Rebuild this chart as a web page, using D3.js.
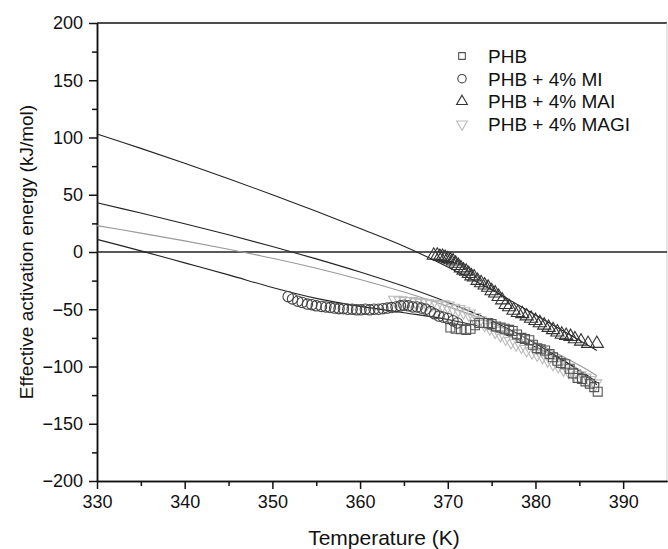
<!DOCTYPE html>
<html lang="en">
  <head>
    <meta charset="utf-8">
    <title>Effective activation energy vs temperature</title>
    <style>
      body { margin: 0; background: #fff; }
      text { font-family: Arial, "Liberation Sans", sans-serif; fill: #111; }
      .axis path, .axis line { stroke: #111; stroke-width: 1.5; }
      .axis text { font-size: 18px; font-family: Arial, "Liberation Sans", sans-serif; }
    </style>
    <script src="https://cdn.jsdelivr.net/npm/d3@7"></script>
  </head>
  <body>
  <svg width="668" height="549"></svg>
  <script>
// ticks
var xTicks = [330, 340, 350, 360, 370, 380, 390];
var xMinor = [335, 345, 355, 365, 375, 385];
var yTicks = [-200, -150, -100, -50, 0, 50, 100, 150, 200];
var yMinor = [-175, -125, -75, -25, 25, 75, 125, 175];

var seriesNames = ["PHB", "PHB + 4% MI", "PHB + 4% MAI", "PHB + 4% MAGI"];

// PHB (squares)
var phbT = [370.3, 370.9, 371.5, 372.1, 372.6, 373.1, 373.6, 374.1, 374.6, 375.0, 375.5, 376.0, 376.5, 377.0, 377.4, 377.9, 378.4, 378.8, 379.3, 379.7, 380.2, 380.6, 381.1, 381.6, 382.0, 382.5, 382.9, 383.4, 383.9, 384.3, 384.8, 385.3, 385.7, 386.2, 386.7, 387.1];
var phbE = [-66, -67, -67.5, -68, -67, -64, -62, -62, -62, -63, -65, -66, -67, -68, -69, -72, -75, -76, -77, -81, -84, -85, -86, -89, -92, -95, -97, -98, -102, -106, -110, -111, -113, -115, -118, -122];

// PHB + 4% MI (circles)
var miT = [351.8, 352.3, 352.9, 353.4, 354.0, 354.5, 355.0, 355.6, 356.1, 356.6, 357.1, 357.6, 358.1, 358.6, 359.1, 359.6, 360.1, 360.6, 361.1, 361.6, 362.1, 362.6, 363.1, 363.6, 364.1, 364.6, 365.0, 365.5, 366.0, 366.5, 367.0, 367.5, 368.0, 368.5, 369.0, 369.5, 370.0, 370.6, 371.1];
var miE = [-39, -41, -43, -44, -45.5, -46, -47, -47.5, -48, -48.5, -49, -49.5, -49.5, -50, -50, -50.5, -50.5, -50, -50.5, -50, -50, -49.5, -49, -48.5, -48, -47, -46.5, -47, -48, -48, -49, -50, -52, -54, -56, -57, -58, -60, -62];

// PHB + 4% MAI (up triangles)
var maiT = [368.4, 368.8, 369.1, 369.4, 369.7, 370.0, 370.3, 370.6, 370.9, 371.2, 371.5, 371.8, 372.1, 372.4, 372.7, 373.0, 373.4, 373.8, 374.2, 374.6, 375.0, 375.4, 375.8, 376.2, 376.6, 377.0, 377.5, 378.0, 378.5, 379.0, 379.5, 380.0, 380.5, 381.0, 381.5, 382.0, 382.5, 383.0, 383.5, 384.0, 384.5, 385.2, 386.0, 387.0];
var maiE = [-3, -3, -4, -4, -5, -6, -7, -8, -10, -12, -14, -16, -17, -19, -21, -22, -25, -27, -29, -31, -34, -36, -39, -42, -46, -48, -51, -53, -54, -56, -58, -60, -62, -64, -66, -68, -70, -72, -73, -74, -76, -78, -80, -80];

// PHB + 4% MAGI (down triangles)
var magiT = [364.0, 364.6, 365.2, 365.8, 366.4, 367.0, 367.6, 368.2, 368.8, 369.4, 370.0, 370.6, 371.2, 371.8, 372.4, 373.0, 373.6, 374.2, 374.8, 375.4, 376.0, 376.6, 377.2, 377.8, 378.4, 379.0, 379.6, 380.2, 380.8, 381.4, 382.0, 382.6, 383.2, 383.8, 384.4, 385.0, 385.6, 386.2, 386.8];
var magiE = [-42, -42.5, -43, -43, -44, -44.5, -45, -45.5, -46, -46, -47, -49, -50, -52, -54, -57, -60, -63, -66, -69, -72, -75, -78, -80, -82, -85, -87, -89, -91, -94, -97, -99, -102, -104, -106, -108, -110, -112, -115];

// fitted curves
var fitT = [330, 335, 340, 345, 350, 355, 360, 365, 370, 375, 380, 385, 387];
var fitPHB = [43, 34, 24.7, 15, 4.8, -6, -17.5, -30, -44, -60, -80, -104, -116];
var fitMI = [11, 1, -9.5, -20, -31, -40.5, -47.5, -53, -59, -68, -83, -103, -114];
var fitMAI = [103, 90.5, 77.5, 64, 50, 35.5, 20.5, 5, -13, -33, -55, -77, -86];
var fitMAGI = [23, 16.5, 9.7, 2.4, -5.5, -14.2, -24, -35, -47.5, -62, -79, -99, -108];

var svg = d3.select("svg"),
    mLeft = 97, mRight = 667, mTop = 23, mBottom = 481;

var x = d3.scaleLinear().domain([330, 395]).range([mLeft, mRight]);
var y = d3.scaleLinear().domain([-200, 200]).range([mBottom, mTop]);

// frame
svg.append("line").attr("x1", mLeft).attr("x2", mRight).attr("y1", mTop).attr("y2", mTop)
    .attr("stroke", "#111").attr("stroke-width", 1.5);
svg.append("line").attr("x1", mRight).attr("x2", mRight).attr("y1", mTop).attr("y2", mBottom)
    .attr("stroke", "#ccc").attr("stroke-width", 1);

// axes
svg.append("g").attr("class", "axis")
    .attr("transform", "translate(0," + mBottom + ")")
    .call(d3.axisBottom(x).tickValues(xTicks).tickSize(8).tickSizeOuter(0).tickPadding(6));
svg.append("g").attr("class", "axis")
    .attr("transform", "translate(0," + mBottom + ")")
    .call(d3.axisBottom(x).tickValues(xMinor).tickSize(5).tickFormat("").tickSizeOuter(0));
svg.append("g").attr("class", "axis")
    .attr("transform", "translate(" + mLeft + ",0)")
    .call(d3.axisLeft(y).tickValues(yTicks).tickSize(8).tickSizeOuter(0).tickPadding(6));
svg.append("g").attr("class", "axis")
    .attr("transform", "translate(" + mLeft + ",0)")
    .call(d3.axisLeft(y).tickValues(yMinor).tickSize(5).tickFormat("").tickSizeOuter(0));

// zero line
svg.append("line").attr("x1", mLeft).attr("x2", mRight).attr("y1", y(0)).attr("y2", y(0))
    .attr("stroke", "#222").attr("stroke-width", 1.5);

// titles
svg.append("text").attr("x", 384).attr("y", 545).attr("text-anchor", "middle")
    .style("font-size", "21px").text("Temperature (K)");
svg.append("text").attr("transform", "translate(33," + ((mTop + mBottom) / 2) + ") rotate(-90)")
    .attr("text-anchor", "middle").style("font-size", "19px")
    .text("Effective activation energy (kJ/mol)");

// fitted lines
var line = d3.line().curve(d3.curveCatmullRom.alpha(0.5))
    .x(function(d) { return x(d[0]); })
    .y(function(d) { return y(d[1]); });
var fits = [[fitPHB, "#222"], [fitMI, "#222"], [fitMAI, "#222"], [fitMAGI, "#999"]];
fits.forEach(function(f) {
  svg.append("path")
      .datum(fitT.map(function(t, i) { return [t, f[0][i]]; }))
      .attr("fill", "none").attr("stroke", f[1]).attr("stroke-width", 1.1)
      .attr("d", line);
});

// markers
var sym = {
  square: d3.symbol().type(d3.symbolSquare).size(80),
  circle: d3.symbol().type(d3.symbolCircle).size(85),
  tri: d3.symbol().type(d3.symbolTriangle).size(75)
};
function plot(ts, es, shape, color, flip) {
  svg.append("g").selectAll("path")
      .data(ts.map(function(t, i) { return [t, es[i]]; }))
      .enter().append("path")
      .attr("d", sym[shape])
      .attr("transform", function(d) {
        return "translate(" + x(d[0]) + "," + y(d[1]) + ")" + (flip ? " rotate(180)" : "");
      })
      .attr("fill", "none").attr("stroke", color).attr("stroke-width", 1.1);
}
plot(magiT, magiE, "tri", "#bbb", true);
plot(phbT, phbE, "square", "#555", false);
plot(miT, miE, "circle", "#444", false);
plot(maiT, maiE, "tri", "#333", false);

// legend
var legShapes = [["square", "#555", false], ["circle", "#444", false], ["tri", "#333", false], ["tri", "#bbb", true]];
var legSym = {
  square: d3.symbol().type(d3.symbolSquare).size(45),
  circle: d3.symbol().type(d3.symbolCircle).size(55),
  tri: d3.symbol().type(d3.symbolTriangle).size(50)
};
seriesNames.forEach(function(name, i) {
  var ly = 56 + i * 22.7;
  svg.append("path").attr("d", legSym[legShapes[i][0]])
      .attr("transform", "translate(462," + ly + ")" + (legShapes[i][2] ? " rotate(180)" : ""))
      .attr("fill", "none").attr("stroke", legShapes[i][1]).attr("stroke-width", 1.1);
  svg.append("text").attr("x", 488).attr("y", ly + 7)
      .style("font-size", "19px").text(name);
});
  </script>
  </body>
</html>
